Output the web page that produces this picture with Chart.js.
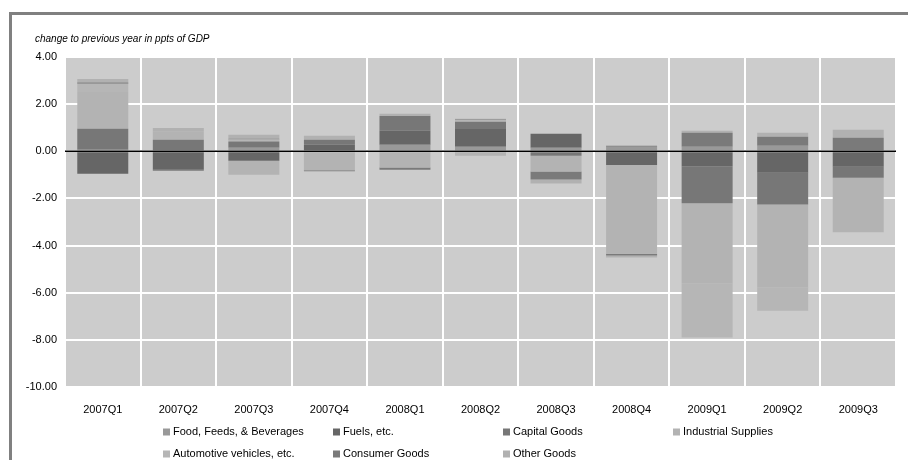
<!DOCTYPE html>
<html>
<head>
<meta charset="utf-8">
<script src="https://cdn.jsdelivr.net/npm/chart.js@4/dist/chart.umd.min.js"></script>
<style>
  html, body { margin: 0; padding: 0; background: #fff; }
  #wrap { position: absolute; left: 0; top: 0; width: 908px; height: 460px; }
  #frame { position: absolute; left: 9px; top: 12px; width: 920px; height: 470px;
           border-left: 3px solid #808080; border-top: 3px solid #808080; box-sizing: border-box; }
  canvas { position: absolute; left: 0; top: 0; }
</style>
</head>
<body>
<div id="wrap">
  <div id="frame"></div>
  <canvas id="c" width="908" height="460"></canvas>
</div>
<script>
const categories = ['2007Q1','2007Q2','2007Q3','2007Q4','2008Q1','2008Q2','2008Q3','2008Q4','2009Q1','2009Q2','2009Q3'];
const food       = [0.07, 0.00, 0.15, 0.00, 0.28, 0.19, 0.15, 0.19, 0.19, 0.24, 0.00];
const fuels      = [-0.95, -0.78, -0.40, 0.28, 0.59, 0.76, 0.59, -0.58, -0.63, -0.91, -0.66];
const capital    = [0.89, 0.49, 0.26, 0.21, 0.63, 0.30, -0.19, 0.04, -1.57, -1.35, -0.46];
const industrial = [1.55, 0.34, -0.60, -0.80, -0.69, -0.19, -0.67, -3.77, -3.40, -3.51, -2.32];
const automotive = [0.36, 0.00, 0.09, 0.00, 0.00, 0.07, 0.00, 0.00, -2.30, -1.00, 0.00];
const consumer   = [0.05, -0.05, 0.03, -0.05, -0.09, 0.03, -0.34, -0.07, 0.60, 0.38, 0.57];
const other      = [0.15, 0.16, 0.17, 0.17, 0.09, 0.03, -0.17, -0.09, 0.08, 0.17, 0.34];
const seriesNames = ['Food, Feeds, & Beverages','Fuels, etc.','Capital Goods','Industrial Supplies','Automotive vehicles, etc.','Consumer Goods','Other Goods'];
const yTicks = [4, 2, 0, -2, -4, -6, -8, -10];
const titleText = 'change to previous year in ppts of GDP';

const colors = ['#999999','#666666','#777777','#b3b3b3','#b6b6b6','#7a7a7a','#b1b1b1'];
const seriesData = [food, fuels, capital, industrial, automotive, consumer, other];

const FONT = '"Liberation Sans", Arial, sans-serif';

const datasets = seriesNames.map((n, i) => ({
  label: n,
  data: seriesData[i],
  backgroundColor: colors[i],
  borderWidth: 0,
  barPercentage: 0.675,
  categoryPercentage: 1.0
}));

const bgPlugin = {
  id: 'bg',
  beforeDraw(chart) {
    const {ctx, chartArea: a} = chart;
    ctx.save();
    ctx.fillStyle = '#cccccc';
    ctx.fillRect(a.left, a.top, a.right - a.left, a.bottom - a.top);
    ctx.restore();
  },
  afterDatasetsDraw(chart) {
    const {ctx, chartArea: a, scales} = chart;
    const y0 = scales.y.getPixelForValue(0);
    ctx.save();
    ctx.strokeStyle = '#000';
    ctx.lineWidth = 1.5;
    ctx.beginPath();
    ctx.moveTo(a.left, y0);
    ctx.lineTo(a.right, y0);
    ctx.stroke();
    ctx.restore();
  },
  afterDraw(chart) {
    const ctx = chart.ctx;
    ctx.save();
    ctx.fillStyle = '#000';
    ctx.font = 'italic 10px ' + FONT;
    ctx.textBaseline = 'alphabetic';
    ctx.fillText(titleText, 35, 42);
    // legend (4 columns, 2 rows)
    const colX = [163, 333, 503, 673];
    const rowY = [432, 454];
    ctx.font = '11px ' + FONT;
    ctx.textBaseline = 'middle';
    chart.data.datasets.forEach((ds, i) => {
      const col = i % 4;
      const row = Math.floor(i / 4);
      const x = colX[col], y = rowY[row];
      ctx.fillStyle = ds.backgroundColor;
      ctx.fillRect(x, y - 3.5, 7, 7);
      ctx.fillStyle = '#000';
      ctx.fillText(ds.label, x + 10, y);
    });
    ctx.restore();
  }
};

new Chart(document.getElementById('c'), {
  type: 'bar',
  data: { labels: categories, datasets },
  options: {
    responsive: false,
    animation: false,
    devicePixelRatio: 1,
    layout: { padding: { top: 57, right: 12, left: 0, bottom: 0 } },
    plugins: { legend: { display: false }, tooltip: { enabled: false }, title: { display: false } },
    scales: {
      x: {
        stacked: true,
        grid: { color: '#ffffff', lineWidth: 2, drawTicks: false, offset: true },
        border: { display: false },
        ticks: { color: '#000', font: { family: FONT, size: 11 }, padding: 16, maxRotation: 0 },
        afterFit(s) { s.height = 73; }
      },
      y: {
        stacked: true,
        min: -10, max: 4,
        afterBuildTicks(s) { s.ticks = yTicks.map(v => ({ value: v })); },
        grid: { color: '#ffffff', lineWidth: 2, drawTicks: false },
        border: { display: false },
        ticks: { color: '#000', font: { family: FONT, size: 11 }, padding: 8,
                 callback: v => Number(v).toFixed(2) },
        afterFit(s) { s.width = 65; }
      }
    }
  },
  plugins: [bgPlugin]
});
</script>
</body>
</html>
